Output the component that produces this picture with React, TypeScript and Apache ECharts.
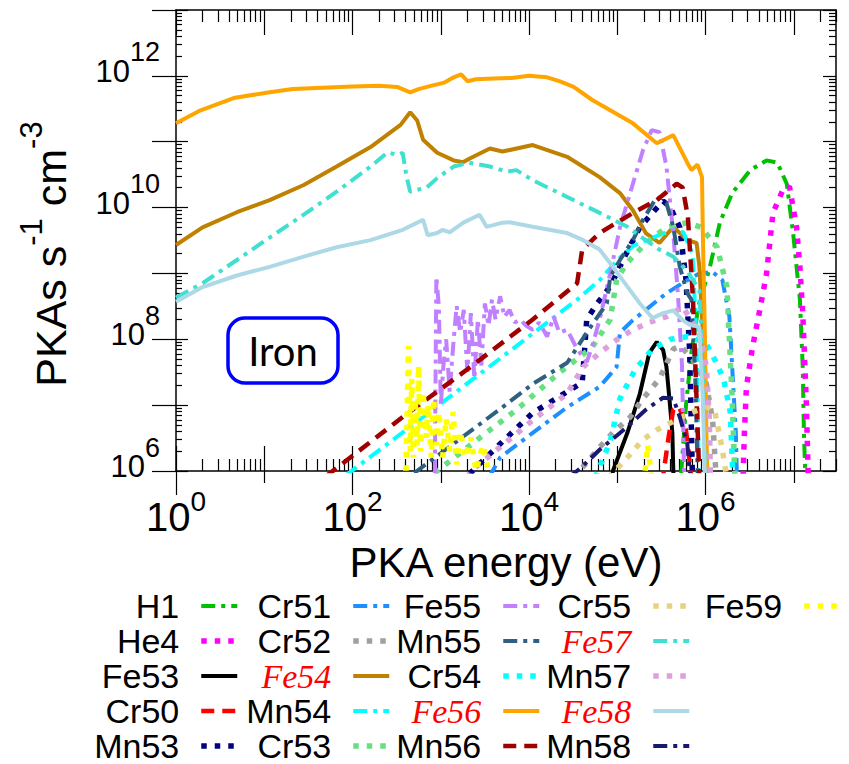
import React, { useEffect, useRef } from 'react';
import * as echarts from 'echarts';

const SANS = '"Liberation Sans", Arial, Helvetica, sans-serif';
const SERIF = '"Liberation Serif", "Times New Roman", serif';

// PKA production spectra in iron: [PKA energy (eV), PKAs s^-1 cm^-3]
const h1: [number, number][] = [
  [5.0e5, 3.2e5], [6.0e5, 1.0e7], [6.9e5, 6.3e7], [8.3e5, 3.2e8], [1.12e6, 1.26e9],
  [1.45e6, 5.9e9], [2.0e6, 1.66e10], [3.2e6, 3.7e10], [4.9e6, 5.2e10], [6.5e6, 4.8e10],
  [8.3e6, 2.3e10], [9.8e6, 4.1e9], [1.17e7, 4.0e8], [1.26e7, 3.8e7], [1.3e7, 3.8e6], [1.38e7, 3.2e5],
];
const he4: [number, number][] = [
  [2.6e6, 3.2e5], [2.75e6, 3.8e6], [2.9e6, 1.9e7], [3.4e6, 7.6e7], [4.1e6, 2.75e8],
  [4.9e6, 1.0e9], [5.8e6, 8.3e9], [7.4e6, 1.78e10], [8.9e6, 2.1e10], [1.07e7, 5.1e9],
  [1.17e7, 1.26e9], [1.26e7, 2.5e8], [1.38e7, 1.2e7], [1.48e7, 3.2e5],
];
const fe53: [number, number][] = [
  [8.3e4, 3.2e5], [8.9e4, 1.0e6], [1.3e5, 3.8e6], [1.8e5, 1.5e7], [2.3e5, 6.2e7],
  [2.8e5, 9.1e7], [3.3e5, 6.9e7], [3.6e5, 3.8e7], [3.9e5, 1.2e7], [4.2e5, 3.8e6], [4.4e5, 3.2e5],
];
const cr50: [number, number][] = [
  [3.2e5, 6.3e5], [3.8e5, 3.2e6], [4.3e5, 8.5e6], [5.0e5, 9.5e6], [5.8e5, 5.6e6],
  [6.3e5, 2.5e6], [7.1e5, 5.0e5],
];
const mn53: [number, number][] = [
  [2100, 9.0e5], [5000, 2.8e6], [1.1e4, 7.6e6], [2.7e4, 1.6e7], [4.0e4, 2.2e7],
  [4.5e4, 2.0e8], [5.9e4, 3.5e8], [8.3e4, 6.3e8], [1.26e5, 2.0e9], [1.8e5, 5.0e9],
  [2.5e5, 8.3e9], [3.3e5, 1.26e10], [4.0e5, 1.0e10], [5.1e5, 5.0e9], [6.0e5, 7.9e8],
  [6.6e5, 6.3e7], [7.2e5, 3.2e5],
];
const cr51: [number, number][] = [
  [3500, 7.9e5], [4700, 1.6e6], [1.1e4, 3.8e6], [2.7e4, 9.3e6], [6.3e4, 1.9e7],
  [9.8e4, 3.8e7], [1.07e5, 1.26e8], [1.5e5, 1.95e8], [3.6e5, 5.0e8], [6.2e5, 7.9e8],
  [8.5e5, 1.0e9], [1.2e6, 1.05e9], [1.55e6, 7.9e8], [1.86e6, 2.2e8], [2.0e6, 3.8e7],
  [2.2e6, 3.8e6], [2.3e6, 3.2e5],
];
const cr52: [number, number][] = [
  [3.2e4, 7.9e5], [6.3e4, 2.3e6], [8.9e4, 3.8e6], [1.4e5, 6.6e6], [1.95e5, 1.26e7],
  [3.0e5, 2.5e7], [4.3e5, 7.1e7], [5.2e5, 7.9e7], [7.1e5, 5.0e7], [1.02e6, 2.1e7],
  [1.2e6, 5.9e6], [1.3e6, 1.1e6], [1.38e6, 3.2e5],
];
const fe54: [number, number][] = [
  [1, 2.7e9], [2.0, 5.0e9], [4.9, 8.5e9], [11.5, 1.3e10], [28, 2.2e10], [66, 4.2e10],
  [160, 8.3e10], [350, 1.8e11], [450, 2.8e11], [540, 2.1e11], [630, 1.07e11], [910, 6.8e10],
  [1400, 5.2e10], [1800, 4.9e10], [2100, 5.5e10], [3600, 7.9e10], [5000, 7.1e10],
  [1.1e4, 8.9e10], [2.7e4, 5.9e10], [6.3e4, 2.9e10], [1.07e5, 1.66e10], [1.5e5, 9.1e9],
  [2.1e5, 4.1e9], [3.0e5, 2.9e9], [4.3e5, 5.1e9], [6.2e5, 3.2e9], [7.9e5, 2.9e9],
  [8.5e5, 1.26e9], [9.3e5, 1.26e8], [9.8e5, 3.8e6], [1.0e6, 3.2e5],
];
const mn54: [number, number][] = [
  [83, 8.5e5], [630, 6.6e6], [7900, 8.7e7], [3.5e4, 4.0e8], [6.3e4, 7.9e8], [1.0e5, 1.6e9],
  [1.5e5, 2.6e9], [2.5e5, 3.5e9], [4.3e5, 4.6e9], [5.6e5, 4.2e9], [7.1e5, 2.0e9],
  [7.9e5, 1.0e8], [8.5e5, 3.2e5],
];
const cr53: [number, number][] = [
  [850, 9.3e5], [2600, 3.0e6], [7200, 8.5e6], [2.2e4, 3.1e7], [5.2e4, 7.6e7],
  [8.3e4, 2.0e8], [9.8e4, 7.9e8], [1.26e5, 1.4e9], [2.1e5, 2.9e9], [3.6e5, 5.0e9],
  [6.2e5, 5.9e9], [8.9e5, 5.0e9], [1.35e6, 2.5e9], [1.74e6, 6.3e8], [2.0e6, 1.26e7], [2.2e6, 3.2e5],
];
const fe55: [number, number][] = [
  [850, 3.2e5], [890, 8.9e8], [950, 3.2e8], [1000, 1.0e7], [1070, 4.0e7], [1150, 1.0e8],
  [1260, 1.6e7], [1380, 7.9e7], [1510, 3.2e8], [1660, 1.26e8], [1820, 2.8e8], [2000, 3.2e7],
  [2190, 2.5e8], [2400, 2.5e7], [2630, 2.0e8], [2880, 4.0e7], [3160, 3.5e8], [3470, 1.6e8],
  [3800, 4.0e8], [4170, 2.0e8], [4700, 4.5e8], [5250, 2.2e8], [6000, 2.8e8], [6900, 1.8e8],
  [7900, 2.0e8], [9300, 1.6e8], [1.1e4, 1.4e8], [1.3e4, 1.8e8], [1.6e4, 1.1e8], [1.9e4, 2.2e8],
  [2.2e4, 1.26e8], [2.7e4, 1.4e8], [3.5e4, 7.1e7], [4.5e4, 4.5e7], [5.2e4, 7.9e7],
  [6.3e4, 2.0e8], [8.3e4, 1.0e9], [1.07e5, 5.0e9], [1.5e5, 2.3e10], [1.95e5, 7.4e10],
  [2.45e5, 1.5e11], [3.0e5, 1.4e11], [3.6e5, 4.2e10], [4.3e5, 4.1e9], [4.9e5, 4.0e8],
  [5.4e5, 4.0e7], [5.8e5, 3.2e5],
];
const mn55: [number, number][] = [
  [500, 9.3e5], [5000, 9.3e6], [1.1e4, 2.1e7], [2.7e4, 4.4e7], [4.5e4, 1.26e8],
  [7.6e4, 3.5e8], [8.3e4, 8.9e8], [1.07e5, 1.6e9], [1.5e5, 3.2e9], [1.95e5, 6.5e9],
  [2.8e5, 1.45e10], [3.6e5, 1.17e10], [4.3e5, 5.1e9], [5.1e5, 1.26e9], [6.2e5, 5.0e8],
  [6.9e5, 4.0e8], [7.6e5, 3.2e7], [8.3e5, 3.2e5],
];
const cr54: [number, number][] = [
  [5.6e4, 7.9e5], [8.3e4, 2.8e6], [1.07e5, 1.26e7], [1.6e5, 3.5e7], [2.5e5, 7.1e7],
  [4.0e5, 1.0e8], [6.3e5, 1.1e8], [1.0e6, 8.9e7], [1.26e6, 5.0e7], [1.6e6, 2.5e7],
  [1.9e6, 7.9e6], [2.1e6, 3.2e5],
];
const fe56: [number, number][] = [
  [1, 1.9e11], [1.9, 3.0e11], [4.5, 4.6e11], [11, 5.6e11], [21, 6.3e11], [100, 6.9e11],
  [200, 7.1e11], [320, 6.8e11], [450, 5.6e11], [560, 6.3e11], [790, 7.1e11], [1100, 7.9e11],
  [1400, 9.5e11], [1700, 1.05e12], [2000, 8.3e11], [2500, 8.9e11], [4000, 9.1e11],
  [6300, 9.3e11], [1e4, 1.0e12], [1.6e4, 9.5e11], [2.2e4, 8.3e11], [3.2e4, 6.8e11],
  [5.2e4, 4.3e11], [8.3e4, 3.0e11], [1.5e5, 1.9e11], [2.8e5, 9.5e10], [4.3e5, 1.26e11],
  [6.2e5, 4.8e10], [6.9e5, 3.7e10], [8.1e5, 4.5e10], [9.1e5, 2.9e10], [9.3e5, 4.1e9],
  [9.8e5, 1.26e8], [1.02e6, 3.8e6], [1.07e6, 3.2e5],
];
const mn56: [number, number][] = [
  [50, 8.3e5], [370, 6.6e6], [2000, 3.5e7], [1.1e4, 2.0e8], [3.5e4, 7.1e8], [4.0e4, 2.3e9],
  [6.3e4, 4.1e9], [1.5e5, 8.3e9], [2.8e5, 1.3e10], [4.7e5, 2.3e10], [5.5e5, 2.0e10],
  [6.3e5, 7.2e9], [7.2e5, 4.0e8], [7.9e5, 1.2e7], [8.7e5, 3.2e5],
];
const cr55: [number, number][] = [
  [7.9e4, 7.9e5], [1.3e5, 1.6e6], [1.95e5, 3.0e6], [2.8e5, 4.2e6], [3.6e5, 5.0e6],
  [6.6e5, 7.6e6], [1.02e6, 9.3e6], [1.26e6, 8.5e6], [1.55e6, 2.1e6], [1.78e6, 6.3e5],
];
const fe57: [number, number][] = [
  [1, 4.3e8], [2.0, 7.1e8], [4.9, 1.6e9], [11.5, 3.5e9], [28, 7.8e9], [66, 1.74e10],
  [160, 4.2e10], [250, 6.9e10], [320, 6.3e10], [370, 6.8e10], [410, 2.9e10], [450, 1.74e10],
  [540, 1.86e10], [690, 2.0e10], [910, 2.8e10], [1400, 4.2e10], [2100, 4.8e10], [3600, 4.2e10],
  [5600, 3.5e10], [7200, 3.7e10], [1.1e4, 2.6e10], [2.7e4, 1.45e10], [6.3e4, 8.3e9],
  [1.3e5, 5.1e9], [2.1e5, 3.2e9], [3.0e5, 2.3e9], [4.3e5, 1.8e9], [6.2e5, 1.1e9],
  [7.2e5, 7.9e8], [8.5e5, 5.6e8], [9.3e5, 4.0e7], [1.0e6, 3.2e5],
];
const mn57: [number, number][] = [
  [2000, 7.9e5], [2200, 1.0e6], [4700, 2.3e6], [1.1e4, 5.9e6], [2.7e4, 1.5e7], [4.1e4, 3.8e7],
  [6.3e4, 6.2e7], [9.8e4, 9.8e7], [1.5e5, 1.4e8], [2.3e5, 1.8e8], [3.6e5, 2.2e8],
  [5.5e5, 3.1e8], [8.5e5, 1.26e8], [1.02e6, 3.8e7], [1.1e6, 6.3e6], [1.15e6, 3.2e5],
];
const fe58: [number, number][] = [
  [1, 3.7e8], [2.0, 6.2e8], [4.9, 9.3e8], [11.5, 1.26e9], [28, 1.8e9], [66, 2.5e9],
  [160, 3.2e9], [370, 4.6e9], [630, 6.5e9], [710, 3.8e9], [910, 4.1e9], [1050, 4.6e9],
  [1260, 4.2e9], [1800, 5.9e9], [2750, 7.8e9], [3300, 5.1e9], [5000, 5.9e9], [6000, 6.0e9],
  [1.1e4, 5.1e9], [2.7e4, 4.1e9], [4.1e4, 3.2e9], [6.3e4, 2.3e9], [8.9e4, 1.26e9],
  [1.3e5, 6.3e8], [1.8e5, 3.5e8], [2.5e5, 2.1e8], [3.3e5, 2.5e8], [4.3e5, 2.75e8],
  [5.5e5, 1.95e8], [6.6e5, 1.66e8], [8.5e5, 1.55e8], [9.3e5, 1.26e7], [1.0e6, 3.2e5],
];
const mn58: [number, number][] = [
  [2.8e4, 7.9e5], [3.8e4, 1.1e6], [6.3e4, 2.1e6], [1.3e5, 4.7e6], [2.1e5, 8.5e6],
  [3.3e5, 1.3e7], [4.3e5, 1.26e7], [5.1e5, 6.6e6], [6.2e5, 2.6e6], [6.8e5, 6.3e5],
];
const fe59: ([number, number] | [number, null])[] = [
  [400, 6.3e5], [430, 7.9e7], [450, 2.0e6], [470, 2.5e7], [490, 1.6e6], [510, 1.26e7],
  [540, 2.5e6], [560, 4.0e7], [590, 2.0e6], [630, 1.6e7], [680, 3.2e6], [720, 1.0e7],
  [780, 1.6e6], [830, 1.26e7], [890, 2.5e6], [950, 7.9e6], [1050, 1.6e6], [1150, 6.3e6],
  [1260, 2.0e6], [1380, 7.9e6], [1510, 1.26e6], [1660, 4.0e6], [1900, 1.6e6], [2200, 3.2e6],
  [2500, 1.0e6], [3000, 2.5e6], [3600, 7.9e5], [5e4, null],
  [2.0e5, 6.3e5], [2.2e5, 2.5e6], [2.5e5, 6.3e5],
];

// axis ranges and tick positions
const X_MIN = 1;
const X_MAX = 3e7;
const Y_MIN = 1e6;
const Y_MAX = 1e13;
const xDecades = [1, 10, 100, 1e3, 1e4, 1e5, 1e6, 1e7];
const xLabelled = [1, 100, 1e4, 1e6];
const xUnlabelled = [10, 1e3, 1e5, 1e7];
const yDecades = [1e6, 1e7, 1e8, 1e9, 1e10, 1e11, 1e12, 1e13];
const yLabelled = [1e6, 1e8, 1e10, 1e12];

const minorTicks = (loExp: number, hiExp: number, max: number) => {
  const out: number[] = [];
  for (let e = loExp; e <= hiExp; e++) {
    for (let m = 2; m <= 9; m++) {
      const v = m * Math.pow(10, e);
      if (v <= max) out.push(v);
    }
  }
  return out;
};
const xMinor = minorTicks(0, 7, X_MAX);
const yMinor = minorTicks(6, 12, Y_MAX);

type Dash = 'solid' | 'dash' | 'dashdot' | 'dot';
const seriesDefs: { name: string; data: any[]; color: string; dash: Dash }[] = [
  { name: 'H1', data: h1, color: '#00c000', dash: 'dashdot' },
  { name: 'He4', data: he4, color: '#ff00ff', dash: 'dot' },
  { name: 'Fe53', data: fe53, color: '#000000', dash: 'solid' },
  { name: 'Cr50', data: cr50, color: '#ff0000', dash: 'dash' },
  { name: 'Mn53', data: mn53, color: '#000080', dash: 'dot' },
  { name: 'Cr51', data: cr51, color: '#1e8fff', dash: 'dashdot' },
  { name: 'Cr52', data: cr52, color: '#a0a0a0', dash: 'dot' },
  { name: 'Fe54', data: fe54, color: '#c08000', dash: 'solid' },
  { name: 'Mn54', data: mn54, color: '#00ffff', dash: 'dashdot' },
  { name: 'Cr53', data: cr53, color: '#66e080', dash: 'dot' },
  { name: 'Fe55', data: fe55, color: '#c080ff', dash: 'dashdot' },
  { name: 'Mn55', data: mn55, color: '#306080', dash: 'dashdot' },
  { name: 'Cr54', data: cr54, color: '#00ffff', dash: 'dot' },
  { name: 'Fe56', data: fe56, color: '#ffa500', dash: 'solid' },
  { name: 'Mn56', data: mn56, color: '#a00000', dash: 'dash' },
  { name: 'Cr55', data: cr55, color: '#e6d280', dash: 'dot' },
  { name: 'Fe57', data: fe57, color: '#40e0d0', dash: 'dashdot' },
  { name: 'Mn57', data: mn57, color: '#dda0dd', dash: 'dot' },
  { name: 'Fe58', data: fe58, color: '#add8e6', dash: 'solid' },
  { name: 'Mn58', data: mn58, color: '#191970', dash: 'dashdot' },
  { name: 'Fe59', data: fe59, color: '#ffff00', dash: 'dot' },
];

const legendColumns = [
  ['H1', 'He4', 'Fe53', 'Cr50', 'Mn53'],
  ['Cr51', 'Cr52', 'Fe54', 'Mn54', 'Cr53'],
  ['Fe55', 'Mn55', 'Cr54', 'Fe56', 'Mn56'],
  ['Cr55', 'Fe57', 'Mn57', 'Fe58', 'Mn58'],
  ['Fe59'],
];
const legendRight = [609, 457, 307, 157, 6];
const italicNames = ['Fe54', 'Fe56', 'Fe57', 'Fe58'];

const lineStyleFor = (dash: Dash, color: string) => {
  switch (dash) {
    case 'dash':
      return { color, width: 4.5, type: [13, 8] };
    case 'dashdot':
      return { color, width: 4, type: [14, 6, 4, 6] };
    case 'dot':
      return { color, width: 5.5, type: [5.5, 8] };
    default:
      return { color, width: 4, type: 'solid' };
  }
};

const exponent = (v: number) => Math.round(Math.log10(v));

function buildOption(): echarts.EChartsCoreOption {
  const grid = { left: 176, top: 10, right: 13, bottom: 293, containLabel: false };
  const tickLine = { color: '#000', width: 1.2 };
  const xBase = {
    type: 'log', logBase: 10, min: X_MIN, max: X_MAX, gridIndex: 0,
    splitLine: { show: false }, minorTick: { show: false },
    axisLabel: { show: false }, axisLine: { show: false, onZero: false },
  };
  const yBase = {
    type: 'log', logBase: 10, min: Y_MIN, max: Y_MAX, gridIndex: 0,
    splitLine: { show: false }, minorTick: { show: false },
    axisLabel: { show: false }, axisLine: { show: false, onZero: false },
  };

  const xAxis = [
    {
      ...xBase, position: 'bottom',
      axisLine: { show: true, onZero: false, lineStyle: { color: '#000', width: 1.5 } },
      axisTick: { show: true, inside: true, length: 25, customValues: xDecades, lineStyle: tickLine },
      axisLabel: {
        show: true, customValues: xLabelled, margin: 16, color: '#000',
        formatter: (v: number) => `{b|10}{s|${exponent(v)}}`,
        rich: {
          b: { fontSize: 40, fontFamily: SANS, lineHeight: 50, verticalAlign: 'bottom', color: '#000' },
          s: { fontSize: 28, fontFamily: SANS, lineHeight: 28, verticalAlign: 'top', color: '#000' },
        },
      },
      name: 'PKA energy (eV)', nameLocation: 'middle', nameGap: 66,
      nameTextStyle: { fontSize: 42, lineHeight: 42, fontFamily: SANS, color: '#000' },
    },
    { ...xBase, position: 'bottom', axisTick: { show: true, inside: true, length: 12, customValues: xMinor, lineStyle: tickLine } },
    { ...xBase, position: 'bottom', axisTick: { show: true, inside: false, length: 24, customValues: xLabelled, lineStyle: tickLine } },
    { ...xBase, position: 'bottom', axisTick: { show: true, inside: false, length: 12, customValues: xUnlabelled, lineStyle: tickLine } },
    {
      ...xBase, position: 'top',
      axisLine: { show: true, onZero: false, lineStyle: { color: '#000', width: 1.5 } },
      axisTick: { show: true, inside: true, length: 25, customValues: xDecades, lineStyle: tickLine },
    },
    { ...xBase, position: 'top', axisTick: { show: true, inside: true, length: 12, customValues: xMinor, lineStyle: tickLine } },
  ];

  const yAxis = [
    {
      ...yBase, position: 'left',
      axisLine: { show: true, onZero: false, lineStyle: { color: '#000', width: 1.5 } },
      axisTick: { show: true, inside: true, length: 12, customValues: yDecades, lineStyle: tickLine },
      axisLabel: {
        show: true, customValues: yLabelled, margin: 16, color: '#000', padding: [0, 0, 26, 0],
        formatter: (v: number) => `{b|10}{s|${exponent(v)}}`,
        rich: {
          b: { fontSize: 31, fontFamily: SANS, lineHeight: 48, verticalAlign: 'bottom', color: '#000' },
          s: { fontSize: 27, fontFamily: SANS, lineHeight: 27, verticalAlign: 'top', color: '#000' },
        },
      },
    },
    { ...yBase, position: 'left', axisTick: { show: true, inside: false, length: 24, customValues: yDecades, lineStyle: tickLine } },
    { ...yBase, position: 'left', axisTick: { show: true, inside: true, length: 6, customValues: yMinor, lineStyle: tickLine } },
    {
      ...yBase, position: 'right',
      axisLine: { show: true, onZero: false, lineStyle: { color: '#000', width: 1.5 } },
      axisTick: { show: true, inside: true, length: 13, customValues: yDecades, lineStyle: tickLine },
    },
    { ...yBase, position: 'right', axisTick: { show: true, inside: true, length: 7, customValues: yMinor, lineStyle: tickLine } },
  ];

  const series = seriesDefs.map((d) => ({
    name: d.name,
    type: 'line',
    xAxisIndex: 0,
    yAxisIndex: 0,
    data: d.data,
    showSymbol: false,
    symbol: 'none',
    connectNulls: false,
    clip: true,
    lineStyle: lineStyleFor(d.dash, d.color),
    itemStyle: { color: d.color },
    emphasis: { disabled: true },
  }));

  const legend = legendColumns.map((names, i) => ({
    orient: 'vertical',
    right: legendRight[i],
    top: 589,
    height: 200,
    padding: 0,
    itemGap: 1,
    itemWidth: 36,
    itemHeight: 14,
    align: 'right',
    selectedMode: false,
    data: names,
    itemStyle: { opacity: 0 },
    lineStyle: { width: 'inherit' },
    formatter: (name: string) => (italicNames.includes(name) ? `{it|${name}}` : name),
    textStyle: {
      fontSize: 34,
      fontFamily: SANS,
      color: '#000',
      lineHeight: 34,
      padding: [0, 17, 0, 0],
      rich: {
        it: { fontSize: 34, fontFamily: SERIF, fontStyle: 'italic', color: '#ff0000', lineHeight: 34 },
      },
    },
  }));

  const graphic = [
    {
      type: 'group',
      x: 228,
      y: 318,
      children: [
        {
          type: 'rect',
          shape: { x: 0, y: 0, width: 110, height: 65, r: 17 },
          style: { fill: 'rgba(255,255,255,0)', stroke: '#0000ff', lineWidth: 3.5 },
        },
        {
          type: 'text',
          x: 55,
          y: 33,
          style: { text: 'Iron', fontSize: 40, fontFamily: 'Lato, "DejaVu Sans", sans-serif', fill: '#000', align: 'center', verticalAlign: 'middle' },
        },
      ],
    },
    {
      type: 'text',
      x: 44,
      y: 254,
      rotation: Math.PI / 2,
      style: {
        text: '{b|PKAs s}{s|-1}{b| cm}{s|-3}',
        align: 'center',
        verticalAlign: 'middle',
        rich: {
          b: { fontSize: 43, fontFamily: SANS, lineHeight: 57, verticalAlign: 'bottom', fill: '#000' },
          s: { fontSize: 31, fontFamily: SANS, lineHeight: 31, verticalAlign: 'top', fill: '#000' },
        },
      },
    },
  ];

  return {
    animation: false,
    backgroundColor: '#ffffff',
    grid,
    xAxis,
    yAxis,
    legend,
    series,
    graphic,
  };
}

export default function App() {
  const ref = useRef<HTMLDivElement>(null);
  useEffect(() => {
    if (!ref.current) return;
    const chart = echarts.init(ref.current, undefined, { renderer: 'svg' });
    chart.setOption(buildOption());
    return () => chart.dispose();
  }, []);
  return (
    <div
      ref={ref}
      style={{ position: 'fixed', left: 0, top: 0, width: 849, height: 764, background: '#fff' }}
    />
  );
}
